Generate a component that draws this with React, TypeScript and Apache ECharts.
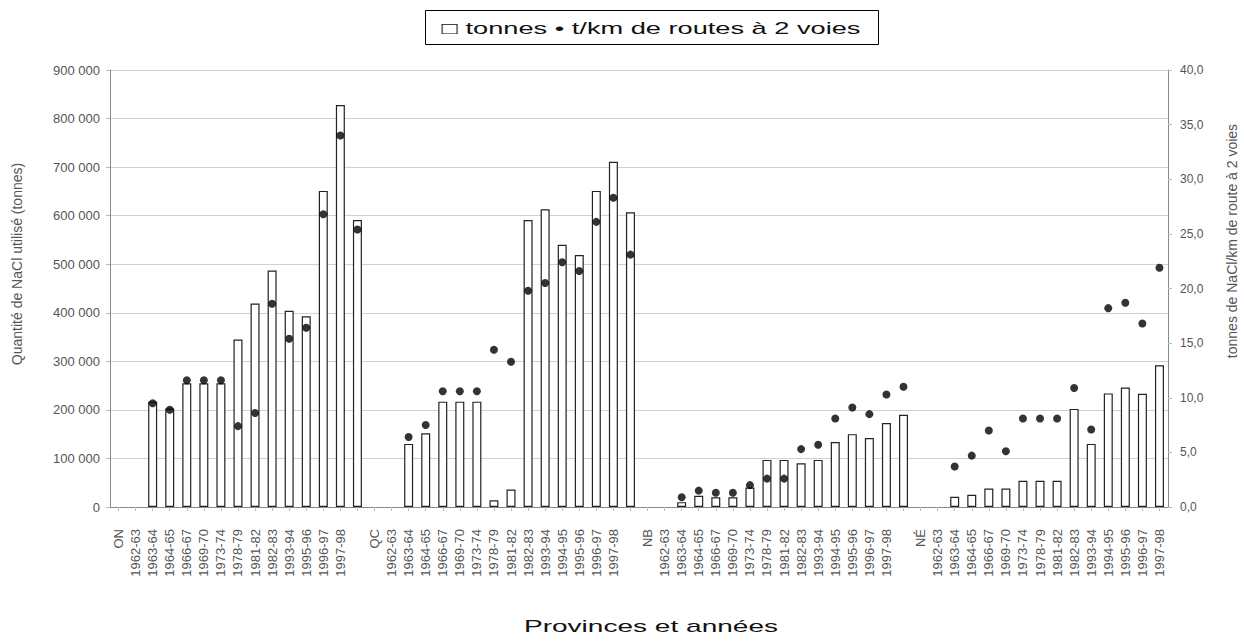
import React, { useEffect, useRef } from "react";
import * as echarts from "echarts";

// Category labels per group
const yearsON = ["1962-63","1963-64","1964-65","1966-67","1969-70","1973-74","1978-79","1981-82","1982-83","1993-94","1995-96","1996-97","1997-98"];
const yearsQC = ["1962-63","1963-64","1964-65","1966-67","1969-70","1973-74","1978-79","1981-82","1982-83","1993-94","1994-95","1995-96","1996-97","1997-98"];
const yearsNB = ["1962-63","1963-64","1964-65","1966-67","1969-70","1973-74","1978-79","1981-82","1982-83","1993-94","1994-95","1995-96","1996-97","1997-98"];
const yearsNE = ["1962-63","1963-64","1964-65","1966-67","1969-70","1973-74","1978-79","1981-82","1982-83","1993-94","1994-95","1995-96","1996-97","1997-98"];

// Tonnes of NaCl
const tonnesON = [217000, 203000, 255000, 255000, 255000, 345000, 419000, 487000, 404000, 393000, 651000, 828000, 591000];
const tonnesQC = [130000, 152000, 217000, 217000, 217000, 14000, 36000, 591000, 613000, 540000, 519000, 651000, 711000, 607000];
const tonnesNB = [10000, 23000, 20000, 20000, 40000, 97000, 97000, 90000, 97000, 134000, 150000, 142000, 173000, 190000];
const tonnesNE = [21000, 25000, 38000, 38000, 54000, 54000, 54000, 202000, 130000, 234000, 246000, 233000, 292000];

// t/km of 2-lane roads
const tkmON = [9.5, 8.9, 11.6, 11.6, 11.6, 7.4, 8.6, 18.6, 15.4, 16.4, 26.8, 34.0, 25.4];
const tkmQC = [6.4, 7.5, 10.6, 10.6, 10.6, 14.4, 13.3, 19.8, 20.5, 22.4, 21.6, 26.1, 28.3, 23.1];
const tkmNB = [0.9, 1.5, 1.3, 1.3, 2.0, 2.6, 2.6, 5.3, 5.7, 8.1, 9.1, 8.5, 10.3, 11.0];
const tkmNE = [3.7, 4.7, 7.0, 5.1, 8.1, 8.1, 8.1, 10.9, 7.1, 18.2, 18.7, 16.8, 21.9];

const leftTicks = { min: 0, max: 900000, interval: 100000 };
const rightTicks = { min: 0, max: 40, interval: 5 };

const categories = ["ON", ...yearsON, "", "QC", ...yearsQC, "", "NB", ...yearsNB, "", "NÉ", ...yearsNE];
const gap = [null, null];
const barData = [...gap, ...tonnesON, ...gap, ...tonnesQC, ...gap, ...tonnesNB, ...gap, ...tonnesNE];
const dotData = [...gap, ...tkmON, ...gap, ...tkmQC, ...gap, ...tkmNB, ...gap, ...tkmNE];

const FONT = "'Liberation Sans', Arial, sans-serif";

export default function App() {
  const ref = useRef<HTMLDivElement>(null);
  useEffect(() => {
    document.body.style.margin = "0";
    if (!ref.current) return;
    const chart = echarts.init(ref.current, null, { renderer: "svg" });
    chart.setOption({
      animation: false,
      backgroundColor: "#fff",
      textStyle: { fontFamily: FONT },
      grid: { left: 110, right: 76, top: 70, bottom: 136 },
      graphic: [
        {
          type: "rect",
          shape: { x: 425.5, y: 10.5, width: 453, height: 34 },
          style: { fill: "#fff", stroke: "#000", lineWidth: 1 },
        },
        {
          type: "text",
          x: 651,
          y: 28,
          scaleX: 1.6,
          style: {
            text: "□ tonnes • t/km de routes à 2 voies",
            fontSize: 17,
            fontFamily: FONT,
            fill: "#111",
            align: "center",
            verticalAlign: "middle",
          },
        },
        {
          type: "text",
          x: 651,
          y: 626,
          scaleX: 1.65,
          style: {
            text: "Provinces et années",
            fontSize: 17,
            fontFamily: FONT,
            fill: "#111",
            align: "center",
            verticalAlign: "middle",
          },
        },
        {
          type: "text",
          x: 17,
          y: 264,
          rotation: Math.PI / 2,
          style: {
            text: "Quantité de NaCl utilisé (tonnes)",
            fontSize: 14,
            fontFamily: FONT,
            fill: "#555",
            align: "center",
            verticalAlign: "middle",
          },
        },
        {
          type: "text",
          x: 1232,
          y: 241,
          rotation: Math.PI / 2,
          style: {
            text: "tonnes de NaCl/km de route à 2 voies",
            fontSize: 14,
            fontFamily: FONT,
            fill: "#555",
            align: "center",
            verticalAlign: "middle",
          },
        },
      ],
      xAxis: {
        type: "category",
        data: categories,
        axisLine: { lineStyle: { color: "#888" } },
        axisTick: { show: true, alignWithLabel: true, length: 4, lineStyle: { color: "#bbb" } },
        axisLabel: { interval: 0, rotate: 90, fontSize: 13, color: "#555", margin: 22 },
      },
      yAxis: [
        {
          type: "value",
          min: leftTicks.min,
          max: leftTicks.max,
          interval: leftTicks.interval,
          axisLine: { show: true, lineStyle: { color: "#888" } },
          axisTick: { show: true, length: 4, lineStyle: { color: "#bbb" } },
          splitLine: { show: true, lineStyle: { color: "#d0d0d0", width: 1 } },
          axisLabel: {
            fontSize: 13,
            color: "#555",
            margin: 10,
            formatter: (v: number) => String(v).replace(/\B(?=(\d{3})+(?!\d))/g, " "),
          },
        },
        {
          type: "value",
          min: rightTicks.min,
          max: rightTicks.max,
          interval: rightTicks.interval,
          position: "right",
          axisLine: { show: true, lineStyle: { color: "#888" } },
          axisTick: { show: true, length: 4, lineStyle: { color: "#bbb" } },
          splitLine: { show: false },
          axisLabel: {
            fontSize: 12,
            color: "#555",
            margin: 12,
            formatter: (v: number) => v.toFixed(1).replace(".", ","),
          },
        },
      ],
      series: [
        {
          name: "tonnes",
          type: "bar",
          data: barData,
          barWidth: 9,
          yAxisIndex: 0,
          itemStyle: { color: "#fff", borderColor: "#222", borderWidth: 1.2 },
        },
        {
          name: "t/km de routes à 2 voies",
          type: "scatter",
          data: dotData,
          yAxisIndex: 1,
          symbol: "circle",
          symbolSize: 8,
          itemStyle: { color: "#000" },
          z: 5,
        },
      ],
    });
    return () => chart.dispose();
  }, []);
  return <div ref={ref} style={{ width: 1244, height: 643 }} />;
}
